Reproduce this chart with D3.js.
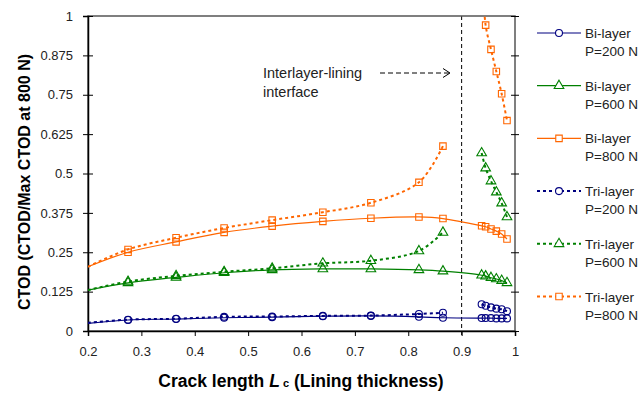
<!DOCTYPE html>
<html lang="en">
<head>
<meta charset="UTF-8">
<title>CTOD vs crack length</title>
<script src="https://d3js.org/d3.v7.min.js"></script>
<style>
    body { margin: 0; background: #fff; }
    text { font-family: Arial, "Liberation Sans", sans-serif; }
    .tick text { font-size: 13px; fill: #222; }
    .legend text { font-size: 13.5px; fill: #222; }
</style>
</head>
<body>
<svg width="642" height="393"></svg>
<script>
    // Crack length positions (left of and right of the interface)
    const xsLeft = [0.2, 0.275, 0.365, 0.455, 0.545, 0.64, 0.73, 0.82, 0.865];
    const xsRight = [0.9375, 0.945, 0.955, 0.965, 0.975, 0.985];

    // Bi-layer: one continuous curve
    const bi200 = [0.024, 0.035, 0.038, 0.042, 0.044, 0.047, 0.048, 0.045, 0.042, 0.041, 0.041, 0.041, 0.040, 0.040, 0.040];
    const bi600 = [0.130, 0.153, 0.170, 0.185, 0.194, 0.197, 0.197, 0.194, 0.190, 0.177, 0.174, 0.169, 0.165, 0.160, 0.153];
    const bi800 = [0.204, 0.250, 0.283, 0.313, 0.333, 0.348, 0.358, 0.362, 0.357, 0.334, 0.331, 0.324, 0.317, 0.308, 0.292];

    // Tri-layer: broken at the interface
    const tri200Left = [0.026, 0.036, 0.039, 0.045, 0.046, 0.048, 0.049, 0.054, 0.058];
    const tri200Right = [0.085, 0.080, 0.075, 0.071, 0.069, 0.063];
    const tri600Left = [0.130, 0.157, 0.175, 0.188, 0.199, 0.215, 0.223, 0.254, 0.313];
    const tri600Right = [0.565, 0.517, 0.476, 0.441, 0.406, 0.362];
    const tri800Left = [0.204, 0.259, 0.296, 0.327, 0.352, 0.377, 0.407, 0.472, 0.587];
    const tri800Right = [1.15, 0.971, 0.894, 0.824, 0.753, 0.668];

    const xTicks = [0.2, 0.3, 0.4, 0.5, 0.6, 0.7, 0.8, 0.9, 1];
    const yTicks = [0, 0.125, 0.25, 0.375, 0.5, 0.625, 0.75, 0.875, 1];

    const blue = "#000080", green = "#008000", orange = "#ff6600";

    const series = [
        { name: "Bi-layer", load: "P=200 N", color: blue, dash: null, marker: "circle",
          parts: [xsLeft.concat(xsRight).map((x, i) => [x, bi200[i]])] },
        { name: "Bi-layer", load: "P=600 N", color: green, dash: null, marker: "triangle",
          parts: [xsLeft.concat(xsRight).map((x, i) => [x, bi600[i]])] },
        { name: "Bi-layer", load: "P=800 N", color: orange, dash: null, marker: "square",
          parts: [xsLeft.concat(xsRight).map((x, i) => [x, bi800[i]])] },
        { name: "Tri-layer", load: "P=200 N", color: blue, dash: "3,3", marker: "circle",
          parts: [xsLeft.map((x, i) => [x, tri200Left[i]]), xsRight.map((x, i) => [x, tri200Right[i]])] },
        { name: "Tri-layer", load: "P=600 N", color: green, dash: "3,3", marker: "triangle",
          parts: [xsLeft.map((x, i) => [x, tri600Left[i]]), xsRight.map((x, i) => [x, tri600Right[i]])] },
        { name: "Tri-layer", load: "P=800 N", color: orange, dash: "3,3", marker: "square",
          parts: [xsLeft.map((x, i) => [x, tri800Left[i]]), xsRight.map((x, i) => [x, tri800Right[i]])] }
    ];

    const pLeft = 88, pRight = 515, pTop = 16, pBottom = 331;

    const x = d3.scaleLinear().domain([0.2, 1]).range([pLeft, pRight]);
    const y = d3.scaleLinear().domain([0, 1]).range([pBottom, pTop]);

    const svg = d3.select("svg");

    svg.append("defs").append("clipPath").attr("id", "plot")
        .append("rect").attr("x", pLeft).attr("y", pTop)
        .attr("width", pRight - pLeft).attr("height", pBottom - pTop);

    const symbols = {
        circle: d3.symbol().type(d3.symbolCircle).size(38),
        triangle: d3.symbol().type(d3.symbolTriangle).size(40),
        square: d3.symbol().type(d3.symbolSquare).size(42)
    };

    // Interface line at 0.9
    svg.append("line")
        .attr("x1", x(0.9)).attr("x2", x(0.9))
        .attr("y1", pTop).attr("y2", pBottom + 7)
        .attr("stroke", "#000").attr("stroke-width", 1)
        .attr("stroke-dasharray", "4,3");

    // Frame
    svg.append("rect")
        .attr("x", pLeft).attr("y", pTop)
        .attr("width", pRight - pLeft).attr("height", pBottom - pTop)
        .attr("fill", "none").attr("stroke", "#555").attr("stroke-width", 1.5);

    // Axes
    const xAxis = svg.append("g")
        .attr("transform", `translate(0,${pBottom})`)
        .call(d3.axisBottom(x).tickValues(xTicks).tickSize(5).tickPadding(11)
            .tickFormat(d => d === 1 ? "1" : d3.format(".1f")(d)));
    xAxis.select(".domain").attr("stroke", "#000").attr("stroke-width", 1.5);

    const yAxis = svg.append("g")
        .attr("transform", `translate(${pLeft},0)`)
        .call(d3.axisLeft(y).tickValues(yTicks).tickSize(5).tickPadding(10)
            .tickFormat(d => d3.format("")(d)));
    yAxis.select(".domain").attr("stroke", "#000").attr("stroke-width", 1.5);
    yAxis.selectAll(".tick line").attr("x2", 5).attr("x1", -5);

    const yRight = svg.append("g")
        .attr("transform", `translate(${pRight},0)`)
        .call(d3.axisRight(y).tickValues(yTicks).tickSize(4).tickFormat(""));
    yRight.select(".domain").remove();
    yRight.selectAll(".tick line").attr("x1", -4);

    svg.selectAll(".tick line").attr("stroke", "#000");

    // Lines
    const line = d3.line().x(d => x(d[0])).y(d => y(d[1])).curve(d3.curveCatmullRom.alpha(0.5));
    const plot = svg.append("g").attr("clip-path", "url(#plot)");

    series.forEach(s => {
        s.parts.forEach(p => {
            plot.append("path")
                .attr("d", line(p))
                .attr("fill", "none")
                .attr("stroke", s.color)
                .attr("stroke-width", s.dash ? 2 : 1.2)
                .attr("stroke-dasharray", s.dash);
        });
    });

    series.forEach(s => {
        s.parts.forEach(p => {
            plot.selectAll(null)
                .data(p.filter(d => d[0] > 0.2))
                .enter().append("path")
                .attr("d", symbols[s.marker])
                .attr("transform", d => `translate(${x(d[0])},${y(d[1])})`)
                .attr("fill", "none")
                .attr("stroke", s.color)
                .attr("stroke-width", 1.1);
        });
    });

    // Annotation
    const note = svg.append("text").attr("x", 263).attr("y", 78)
        .attr("font-size", 14.5).attr("fill", "#222");
    note.append("tspan").attr("x", 263).text("Interlayer-lining");
    note.append("tspan").attr("x", 263).attr("dy", 19).text("interface");
    svg.append("line").attr("x1", 380).attr("x2", 449).attr("y1", 73).attr("y2", 73)
        .attr("stroke", "#000").attr("stroke-dasharray", "5,3");
    svg.append("path").attr("d", "M443,68.5L450,73L443,77.5")
        .attr("fill", "none").attr("stroke", "#000");

    // Axis titles
    svg.append("text")
        .attr("transform", "translate(30,182) rotate(-90)")
        .attr("text-anchor", "middle")
        .attr("font-size", 16).attr("font-weight", "bold")
        .text("CTOD (CTOD/Max CTOD at 800 N)");

    const xt = svg.append("text")
        .attr("x", 301).attr("y", 387)
        .attr("text-anchor", "middle")
        .attr("font-size", 17.5).attr("font-weight", "bold");
    xt.append("tspan").text("Crack length ");
    xt.append("tspan").attr("font-style", "italic").text("L");
    xt.append("tspan").attr("font-size", 11).text(" c");
    xt.append("tspan").text(" (Lining thickness)");

    // Legend
    const legend = svg.append("g").attr("class", "legend");
    series.forEach((s, i) => {
        const g = legend.append("g").attr("transform", `translate(0,${33 + i * 52.7})`);
        g.append("line").attr("x1", 537).attr("x2", 581).attr("y1", 0).attr("y2", 0)
            .attr("stroke", s.color)
            .attr("stroke-width", s.dash ? 2 : 1.2)
            .attr("stroke-dasharray", s.dash);
        g.append("path").attr("d", symbols[s.marker])
            .attr("transform", "translate(559,0)")
            .attr("fill", "#fff").attr("stroke", s.color).attr("stroke-width", 1.1);
        g.append("text").attr("x", 585).attr("y", 5).text(s.name);
        g.append("text").attr("x", 585).attr("y", 23).text(s.load);
    });
</script>
</body>
</html>
